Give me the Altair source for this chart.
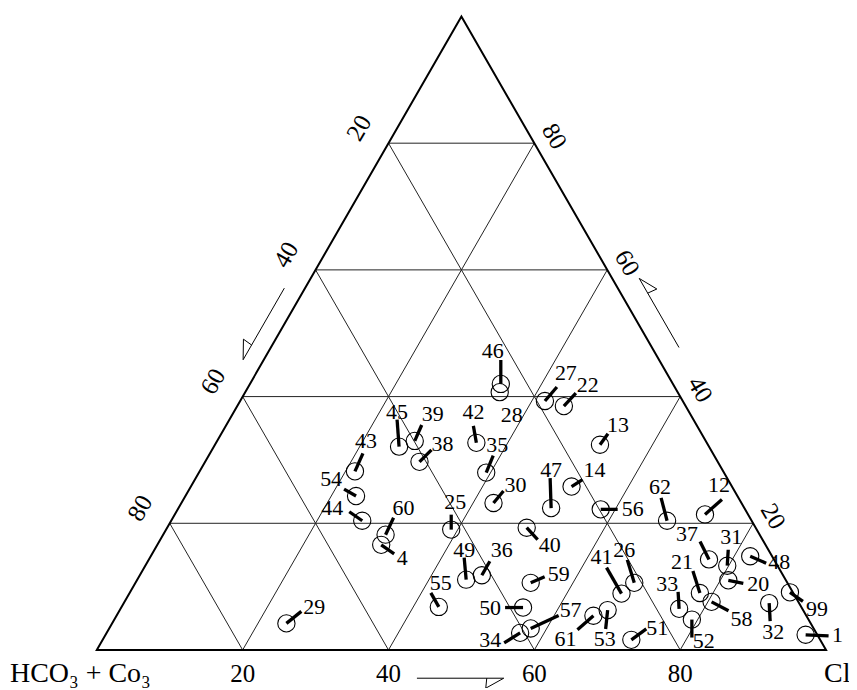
import math
import altair as alt
import pandas as pd

# ---------------- data (ternary %: Cl and SO4, HCO3+CO3 = rest) ----------------
labels = ["46", "28", "27", "22", "45", "39", "42", "13", "43", "38", "35", "54",
          "47", "14", "30", "62", "12", "44", "60", "4", "25", "56", "40", "37",
          "31", "48", "49", "36", "41", "26", "21", "20", "59", "33", "55", "29",
          "50", "57", "58", "99", "61", "53", "34", "51", "52", "32", "1"]
cl = [34.4, 34.9, 41.8, 44.8, 25.4, 27.1, 35.7, 52.8, 21.3, 29.4, 39.4, 23.4,
      51.1, 52.2, 42.8, 68.0, 72.7, 26.2, 30.5, 30.7, 39.1, 58.0, 49.3, 76.8,
      79.8, 82.2, 45.1, 46.9, 67.5, 68.4, 78.2, 81.1, 54.2, 76.6, 43.5, 23.9,
      55.1, 57.8, 80.5, 90.5, 65.4, 66.9, 56.7, 72.5, 79.2, 88.5, 96.0]
so4 = [42.0, 40.7, 39.3, 38.5, 32.1, 33.0, 32.7, 32.4, 28.2, 29.7, 28.0, 24.3,
       22.4, 25.8, 23.2, 20.4, 21.4, 20.4, 18.2, 16.6, 19.0, 22.2, 19.3, 14.3,
       13.3, 14.8, 11.1, 11.8, 8.9, 10.6, 9.0, 11.0, 10.6, 6.5, 6.8, 4.2,
       6.7, 3.4, 7.6, 9.1, 5.4, 6.3, 2.7, 1.6, 4.8, 7.4, 2.4]
ticks = [20, 40, 60, 80]
corner_left = "HCO\u2083 + Co\u2083"
corner_right = "Cl"

# ---------------- annotation layout (pixel offsets of leader ends / labels) ----------------
leader_off = [(0, -24), (0, 0), (12, -14), (12, -13), (-2, -27), (7, -16), (-3, -17), (8, -11),
              (8, -18), (12, -12), (7, -17), (-12, -7), (-1, -30), (11, -7), (10, -12), (-6, -23),
              (17, -15), (-13, -9), (8, -17), (13, 9), (0, -15), (17, 0), (11, 12), (-9, -18),
              (1, -16), (16, 7), (-2, -22), (8, -14), (-15, -26), (-7, -23), (-7, -22), (15, 3),
              (14, -6), (-1, -17), (-8, -14), (15, -12), (-18, 0), (28, -13), (17, 9), (13, 9),
              (-16, 14), (-2, 19), (-16, 10), (15, -11), (0, 18), (1, 18), (23, 1)]
label_off = [(-8, -33), (12, 23), (21, -28), (24, -21), (-2, -35), (18, -27), (-3, -31), (18, -20),
             (11, -30), (23, -18), (11, -28), (-25, -17), (0, -38), (23, -17), (22, -18), (-7, -34),
             (14, -29), (-30, -13), (18, -27), (21, 13), (4, -28), (32, 0), (23, 17), (-22, -25),
             (4, -29), (29, 6), (-2, -30), (20, -25), (-20, -37), (-10, -33), (-18, -31), (30, 4),
             (28, -9), (-12, -25), (2, -24), (28, -16), (-33, 0), (40, -18), (30, 17), (27, 17),
             (-28, 23), (-3, 29), (-30, 7), (26, -12), (12, 21), (4, 29), (32, 0)]

# ---------------- geometry ----------------
W, H = 843, 680
ORIGIN = 8
PX_X0, PX_PER_X = 97.0, 7.31
PX_Y0, PX_PER_Y = 650.7, 6.35
FONT = "Liberation Serif"

xdom = [(ORIGIN - PX_X0) / PX_PER_X, (ORIGIN + W - PX_X0) / PX_PER_X]
ydom = [(PX_Y0 - ORIGIN - H) / PX_PER_Y, (PX_Y0 - ORIGIN) / PX_PER_Y]
xs = alt.Scale(domain=xdom, nice=False, zero=False)
ys = alt.Scale(domain=ydom, nice=False, zero=False)


def ox(dx):
    return dx / PX_PER_X


def oy(dy):
    return -dy / PX_PER_Y


def to_px(x, y):
    return PX_X0 + x * PX_PER_X, PX_Y0 - y * PX_PER_Y


def from_px(px, py):
    return (px - PX_X0) / PX_PER_X, (PX_Y0 - py) / PX_PER_Y


# ---------------- frames ----------------
pts = pd.DataFrame({"label": labels, "cl": cl, "so4": so4})
pts["x"] = pts["cl"] + pts["so4"] / 2.0
pts["y"] = pts["so4"]
pts["lx2"] = pts["x"] + [ox(d[0]) for d in leader_off]
pts["ly2"] = pts["y"] + [oy(d[1]) for d in leader_off]
pts["tx"] = pts["x"] + [ox(d[0]) for d in label_off]
pts["ty"] = pts["y"] + [oy(d[1]) for d in label_off]
leaders = pts[[(a != (0, 0)) for a in leader_off]]

grid = []
for v in ticks:
    grid.append((v / 2.0, v, 100 - v / 2.0, v))             # SO4 = v
    grid.append((v, 0, v + (100 - v) / 2.0, 100 - v))        # Cl = v
    grid.append((100 - v, 0, (100 - v) / 2.0, 100 - v))      # HCO3 = v
grid_df = pd.DataFrame(grid, columns=["x", "y", "x2", "y2"])

outline = pd.DataFrame({"x": [100, 0, 50, 100, 0], "y": [0, 0, 100, 0, 0],
                        "o": [0, 1, 2, 3, 4]})

# axis tick labels
bottom_lab = pd.DataFrame({"t": [str(v) for v in ticks],
                           "x": [v for v in ticks],
                           "y": [oy(24) for v in ticks]})
left_lab = pd.DataFrame({"t": [str(v) for v in ticks],
                         "x": [(100 - v) / 2.0 + ox(-29.6) for v in ticks],
                         "y": [100 - v + oy(-15.2) for v in ticks]})
right_lab = pd.DataFrame({"t": [str(v) for v in ticks],
                          "x": [100 - v / 2.0 + ox(20) for v in ticks],
                          "y": [v + oy(-7) for v in ticks]})

corner_df = pd.DataFrame({"t": [corner_left, corner_right],
                          "x": [ox(-87), 100 + ox(-2)],
                          "y": [oy(32.5), oy(32.5)]})


# direction arrows along the three sides
def edge_pt(side, v):
    if side == "bottom":
        return (v, 0.0)
    if side == "left":
        return ((100 - v) / 2.0, 100 - v)
    return (100 - v / 2.0, v)


normals = {"bottom": (0.0, 1.0), "left": (-0.866, -0.5), "right": (0.866, -0.5)}
arrow_specs = [("bottom", 43.9, 55.8, 28.3), ("left", 44.3, 55.6, 18.0), ("right", 45.9, 56.8, 23.5)]
arrow_rows = []
for k, (side, a0, a1, off) in enumerate(arrow_specs):
    nx, ny = normals[side]
    sx, sy = to_px(*edge_pt(side, a0))
    ex, ey = to_px(*edge_pt(side, a1))
    sx, sy = sx + nx * off, sy + ny * off
    ex, ey = ex + nx * off, ey + ny * off
    L = math.hypot(ex - sx, ey - sy)
    ux, uy = (ex - sx) / L, (ey - sy) / L
    on = (ex - 17 * ux, ey - 17 * uy)
    offp = (ex - 18 * ux + 10 * nx, ey - 18 * uy + 10 * ny)
    seq = [(sx, sy), (ex, ey), offp, on]
    for j, (px, py) in enumerate(seq):
        X_, Y_ = from_px(px, py)
        arrow_rows.append({"id": k, "o": j, "x": X_, "y": Y_})
arrow_df = pd.DataFrame(arrow_rows)


def X(f="x"):
    return alt.X(f, type="quantitative", scale=xs, axis=None)


def Y(f="y"):
    return alt.Y(f, type="quantitative", scale=ys, axis=None)


grid_layer = alt.Chart(grid_df).mark_rule(color="#222222", strokeWidth=1).encode(
    x=X(), y=Y(), x2="x2", y2="y2")

outline_layer = alt.Chart(outline).mark_line(color="black", strokeWidth=2, strokeJoin="miter").encode(
    x=X(), y=Y(), order="o:Q")

arrow_layer = alt.Chart(arrow_df).mark_line(color="black", strokeWidth=1, strokeJoin="miter").encode(
    x=X(), y=Y(), order="o:Q", detail="id:N")

circle_layer = alt.Chart(pts).mark_point(shape="circle", filled=False, size=300,
                                         color="black", strokeWidth=1.1, opacity=1).encode(
    x=X(), y=Y())

leader_layer = alt.Chart(leaders).mark_rule(color="black", strokeWidth=3.3).encode(
    x=X(), y=Y(), x2="lx2", y2="ly2")

label_layer = alt.Chart(pts).mark_text(font=FONT, fontSize=22, color="black",
                                       align="center", baseline="middle").encode(
    x=X("tx"), y=Y("ty"), text="label")

bottom_layer = alt.Chart(bottom_lab).mark_text(font=FONT, fontSize=25, color="black",
                                               align="center", baseline="middle").encode(
    x=X(), y=Y(), text="t")
left_layer = alt.Chart(left_lab).mark_text(font=FONT, fontSize=25, color="black", angle=300,
                                           align="center", baseline="middle").encode(
    x=X(), y=Y(), text="t")
right_layer = alt.Chart(right_lab).mark_text(font=FONT, fontSize=25, color="black", angle=60,
                                             align="center", baseline="middle").encode(
    x=X(), y=Y(), text="t")
corner_layer = alt.Chart(corner_df).mark_text(font=FONT, fontSize=28, color="black",
                                              align="left", baseline="alphabetic").encode(
    x=X(), y=Y(), text="t")

chart = alt.layer(grid_layer, outline_layer, arrow_layer, circle_layer, leader_layer,
                  label_layer, bottom_layer, left_layer, right_layer, corner_layer).properties(
    width=W, height=H, autosize=alt.AutoSizeParams(type="none"), padding=0,
    background="white"
).configure_view(stroke=None)

chart.save("out.html", embed_options={"renderer": "svg", "actions": False})
